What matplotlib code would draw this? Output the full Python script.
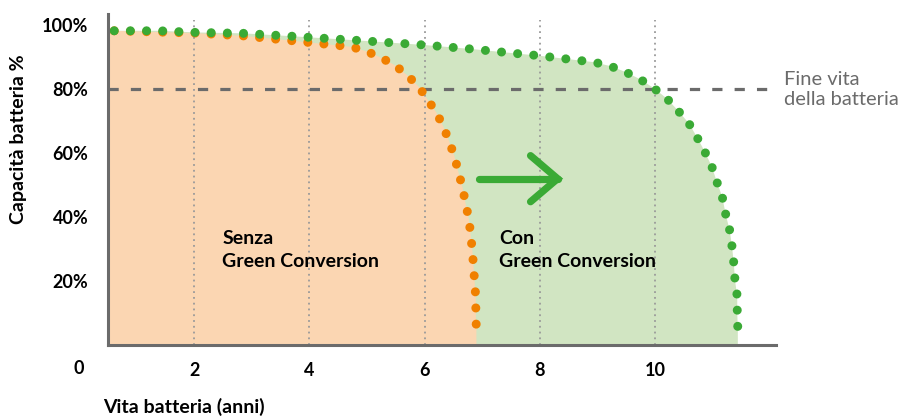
import matplotlib
matplotlib.use("Agg")
from matplotlib import pyplot as plt

plt.rcParams["font.family"] = ["Lato", "DejaVu Sans"]

# curva con Green Conversion (anni, capacita %)
green_x = [0.61, 1.40, 2.00, 2.86, 3.70, 4.83, 5.97, 6.82, 7.65, 7.95, 8.94,
           9.22, 9.48, 9.74, 9.98, 10.21, 10.40, 10.59, 10.73, 10.87, 10.99,
           11.08, 11.17, 11.23, 11.30, 11.34, 11.37, 11.39, 11.43, 11.43, 11.44, 11.44]
green_y = [98.1, 98.1, 97.6, 97.3, 96.4, 95.1, 93.7, 92.4, 90.9, 90.4, 88.3,
           87.1, 85.3, 83.0, 80.2, 76.9, 73.2, 69.2, 64.9, 60.2, 55.6,
           50.7, 46.2, 40.7, 35.7, 30.6, 25.5, 20.3, 15.1, 10.0, 4.9, 1.5]

# curva senza Green Conversion
orange_x = [0.61, 2.00, 2.86, 3.70, 4.73, 4.99, 5.23, 5.48, 5.70, 5.90, 6.05,
            6.21, 6.33, 6.43, 6.52, 6.59, 6.66, 6.71, 6.77, 6.80, 6.83, 6.85,
            6.87, 6.89, 6.89, 6.90, 6.90]
orange_y = [98.1, 97.4, 96.5, 95.0, 93.1, 91.7, 89.8, 87.4, 84.2, 80.6, 76.7,
            72.4, 68.0, 63.4, 58.8, 53.8, 49.1, 44.3, 39.3, 34.4, 29.4, 24.4,
            19.5, 14.5, 9.5, 4.7, 1.6]

x_ticks = [2, 4, 6, 8, 10]
y_ticks = [20, 40, 60, 80, 100]
y_ticklabels = ["20%", "40%", "60%", "80%", "100%"]
end_of_life = 80

arrow_shaft = ([6.94, 8.31], [51.9, 51.9])
arrow_head = ([7.84, 8.31, 7.84], [59.1, 51.9, 44.7])

ORANGE = "#F08000"
GREEN = "#3AAA35"
ORANGE_FILL = "#FBD6B2"
GREEN_FILL = "#D1E5C2"
GREY = "#6B6B6B"

fig = plt.figure(figsize=(8.99, 4.19), dpi=100)
ax = fig.add_axes([0.120, 0.177, 0.743, 0.790])
ax.set_xlim(0.5, 12.1)
ax.set_ylim(0, 103.4)

# aree
ax.fill([0.5] + green_x + [green_x[-1], 0.5], [green_y[0]] + green_y + [0, 0],
        color=GREEN_FILL, lw=0, zorder=1)
ax.fill([0.5] + orange_x + [orange_x[-1], 0.5], [orange_y[0]] + orange_y + [0, 0],
        color=ORANGE_FILL, lw=0, zorder=1)

# griglia verticale
for xt in x_ticks:
    ax.axvline(xt, ymax=0.98, color="#9A9A9A", lw=1.3, ls=(0, (1, 2.2)), zorder=2)

# fine vita
ax.plot([0.5, 12.0], [end_of_life, end_of_life], color=GREY, lw=2.3,
        ls=(0, (3.2, 3.8)), zorder=3)

# curve punteggiate
dots = (0, (0.001, 1.79))
ax.plot(orange_x, orange_y, color=ORANGE, lw=6.5, ls=dots,
        dash_capstyle="round", zorder=4)
ax.plot(green_x, green_y, color=GREEN, lw=6.5, ls=dots,
        dash_capstyle="round", zorder=5)

# freccia
ax.plot(*arrow_shaft, color=GREEN, lw=5.2, solid_capstyle="round", zorder=6)
ax.plot(*arrow_head, color=GREEN, lw=5.2, solid_capstyle="round",
        solid_joinstyle="miter", zorder=6)

ax.text(2.49, 29.7, "Senza\nGreen Conversion", fontsize=14, fontweight="bold",
        va="center", ha="left", linespacing=1.4, zorder=7)
ax.text(7.30, 29.7, "Con\nGreen Conversion", fontsize=14, fontweight="bold",
        va="center", ha="left", linespacing=1.4, zorder=7)
ax.text(12.24, 79.8, "Fine vita\ndella batteria", fontsize=14.5, color=GREY,
        va="center", ha="left", linespacing=1.25, clip_on=False)

# assi
for side in ["top", "right"]:
    ax.spines[side].set_visible(False)
for side in ["left", "bottom"]:
    ax.spines[side].set_color(GREY)
    ax.spines[side].set_linewidth(2.2)
    ax.spines[side].set_zorder(8)

ax.set_xticks(x_ticks)
ax.set_xticklabels([str(v) for v in x_ticks])
ax.set_yticks(y_ticks)
ax.set_yticklabels(y_ticklabels)
ax.tick_params(axis="both", length=0, labelsize=13)
ax.tick_params(axis="x", pad=12)
ax.tick_params(axis="y", pad=14)
for lab in ax.get_xticklabels() + ax.get_yticklabels():
    lab.set_fontweight("bold")

ax.text(0, -7.3, "0", fontsize=13, fontweight="bold", ha="center", va="center",
        transform=ax.transData, clip_on=False)

fig.text(19 / 899, 1 - 139 / 419, "Capacità batteria %", rotation=90, fontsize=14,
         fontweight="bold", ha="center", va="center")
fig.text(103 / 899, 1 - 407 / 419, "Vita batteria (anni)", fontsize=14,
         fontweight="bold", ha="left", va="center")

fig.savefig("out.png", dpi=100)
